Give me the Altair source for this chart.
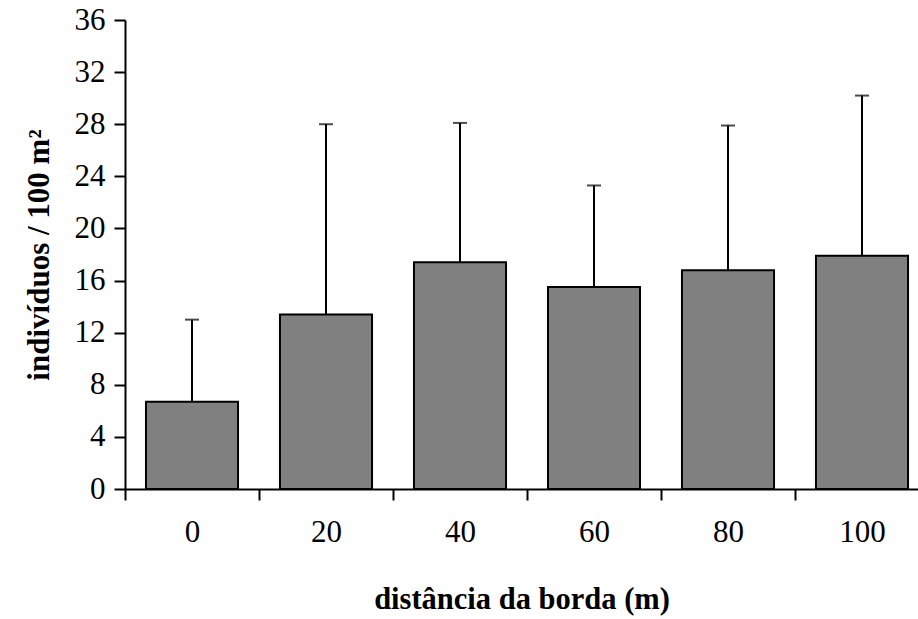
import altair as alt
import pandas as pd

distancias = ["0", "20", "40", "60", "80", "100"]
medias = [6.7, 13.4, 17.4, 15.5, 16.8, 17.9]
superiores = [13.0, 28.0, 28.1, 23.3, 27.9, 30.2]
y_ticks = [0, 4, 8, 12, 16, 20, 24, 28, 32, 36]

df = pd.DataFrame({"dist": distancias, "media": medias, "sup": superiores})

FONT = "Liberation Serif"

x_enc = alt.X(
    "dist:N",
    sort=distancias,
    scale=alt.Scale(range=[0, 804], paddingInner=0, paddingOuter=0),
    axis=alt.Axis(
        title="distância da borda (m)",
        titleFont=FONT, titleFontSize=30.5, titleFontWeight="bold", titleColor="black",
        titleX=396.5, titleY=110, titleBaseline="middle",
        labelFont=FONT, labelFontSize=31, labelColor="black", labelPadding=17,
        labelAngle=0, tickBand="extent", tickSize=11, tickWidth=2, tickColor="black",
        domainColor="black", domainWidth=2,
    ),
)

y_scale = alt.Scale(domain=[0, 36], nice=False, zero=True)

bars = alt.Chart(df).mark_bar(
    width=alt.RelativeBandSize(0.687), fill="#808080", stroke="black", strokeWidth=2
).encode(
    x=x_enc,
    y=alt.Y(
        "media:Q",
        scale=y_scale,
        axis=alt.Axis(
            title="indivíduos / 100 m²",
            values=y_ticks,
            titleFont=FONT, titleFontSize=31, titleFontWeight="bold", titleColor="black",
            titleAngle=270, titleX=-86, titleY=234.5, titleBaseline="middle", titleAlign="center",
            labelFont=FONT, labelFontSize=31, labelColor="black", labelPadding=9,
            tickSize=11, tickWidth=2, tickColor="black",
            domainColor="black", domainWidth=2, grid=False,
        ),
    ),
)

rules = alt.Chart(df).mark_rule(color="black", strokeWidth=2).encode(
    x=alt.X("dist:N", sort=distancias),
    y=alt.Y("media:Q", scale=y_scale),
    y2="sup:Q",
)

caps = alt.Chart(df).mark_tick(color="black", thickness=2, size=14, orient="horizontal").encode(
    x=alt.X("dist:N", sort=distancias),
    y=alt.Y("sup:Q", scale=y_scale),
)

chart = alt.layer(bars, rules, caps).properties(
    width=793,
    height=469,
    padding={"left": 125, "top": 20, "right": 0, "bottom": 130},
    autosize=alt.AutoSizeParams(type="none"),
    background="white",
).configure_view(stroke=None)

chart.save("out.html", embed_options={"renderer": "svg", "actions": False})
